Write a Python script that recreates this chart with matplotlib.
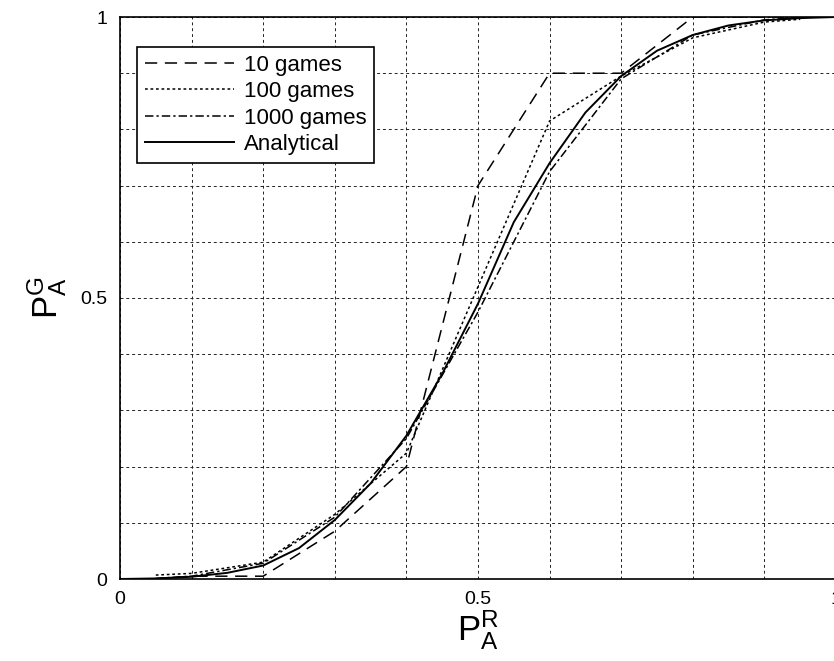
import numpy as np
import matplotlib
matplotlib.use("Agg")
import matplotlib.pyplot as plt
from matplotlib.ticker import MultipleLocator

plt.rcParams['font.family'] = ['Liberation Sans', 'DejaVu Sans']
plt.rcParams['mathtext.fontset'] = 'custom'
plt.rcParams['mathtext.rm'] = 'Liberation Sans'
plt.rcParams['mathtext.it'] = 'Liberation Sans'

# simulated points (P_A^R -> P_A^G)
x_sim = [0.05, 0.1, 0.2, 0.3, 0.4, 0.5, 0.6, 0.7, 0.8, 0.9, 0.95]
y_10 = [0.0, 0.005, 0.005, 0.085, 0.2, 0.7, 0.9, 0.9, 1.0, 1.0, 1.0]
y_100 = [0.007, 0.01, 0.03, 0.115, 0.224, 0.52, 0.815, 0.895, 0.963, 0.991, 0.996]
y_1000 = [0.001, 0.005, 0.028, 0.11, 0.25, 0.475, 0.725, 0.89, 0.968, 0.995, 0.999]

# analytical curve
x_an = [0.0, 0.05, 0.1, 0.15, 0.2, 0.25, 0.3, 0.35, 0.4, 0.45, 0.5,
        0.55, 0.6, 0.65, 0.7, 0.75, 0.8, 0.85, 0.9, 0.95, 1.0]
y_an = [0.0, 0.001, 0.004, 0.011, 0.024, 0.055, 0.105, 0.17, 0.255, 0.365, 0.49,
        0.635, 0.74, 0.83, 0.895, 0.94, 0.968, 0.985, 0.994, 0.998, 1.0]

tick_vals = [0, 0.5, 1]
tick_text = ['0', '0.5', '1']

fig = plt.figure(figsize=(8.34, 6.61), dpi=100)
ax = fig.add_axes([120/834, 82/661, 716/834, 562/661])

ax.plot(x_sim, y_10, color='black', lw=1.1, linestyle=(0, (8, 5)), label='10 games')
ax.plot(x_sim, y_100, color='black', lw=1.1, linestyle=(0, (1.8, 1.8)), label='100 games')
ax.plot(x_sim, y_1000, color='black', lw=1.1, linestyle=(0, (5.5, 2, 1.5, 2)), label='1000 games')
ax.plot(x_an, y_an, color='black', lw=1.4, linestyle='-', label='Analytical')

ax.set_xlim(0, 1)
ax.set_ylim(0, 1)
ax.set_xticks(tick_vals)
ax.set_xticklabels(tick_text)
ax.set_yticks(tick_vals)
ax.set_yticklabels(tick_text)
ax.xaxis.set_minor_locator(MultipleLocator(0.1))
ax.yaxis.set_minor_locator(MultipleLocator(0.1))
ax.tick_params(which='both', length=0, labelsize=14, pad=9)
ax.grid(True, which='both', color='#222222', lw=0.7, linestyle=(0, (3, 3)))
for s in ax.spines.values():
    s.set_linewidth(1.2)

ax.set_xlabel(r'$\mathregular{P_A^R}$', fontsize=25, labelpad=0)
ax.set_ylabel(r'$\mathregular{P_A^G}$', fontsize=25, labelpad=8)

leg = ax.legend(loc='upper left', bbox_to_anchor=(0.0237, 0.947), fontsize=16,
                frameon=True, fancybox=False, framealpha=1, edgecolor='black',
                handlelength=4.0, borderaxespad=0, labelspacing=0.25,
                borderpad=0.35, handletextpad=0.45)
leg.get_frame().set_linewidth(1.2)

fig.savefig("out.png", dpi=100)
